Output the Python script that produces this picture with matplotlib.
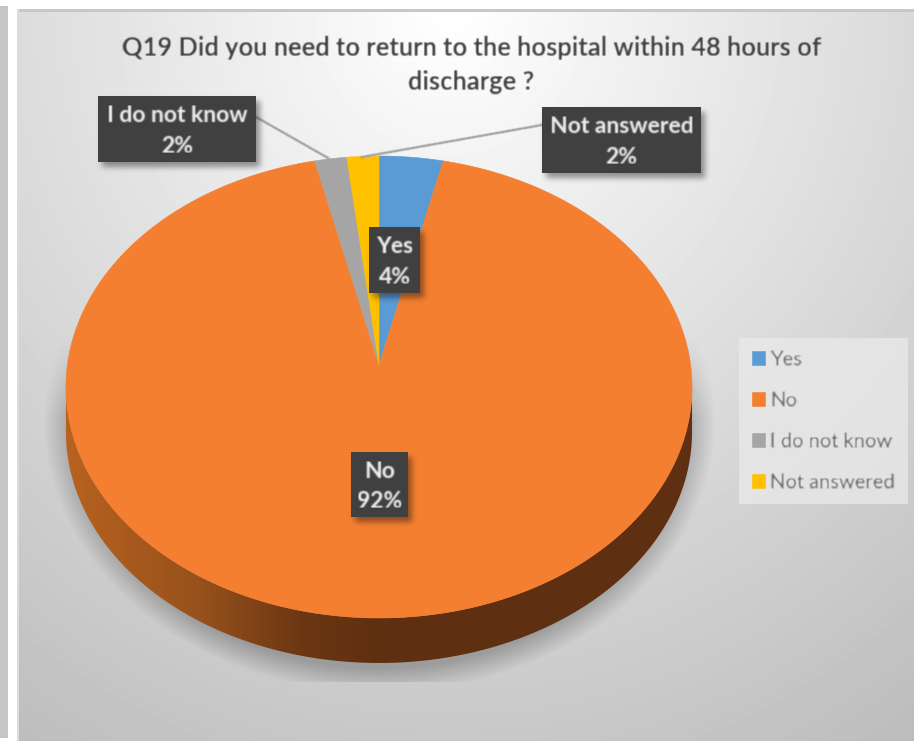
import numpy as np
import matplotlib
matplotlib.use("Agg")
import matplotlib.pyplot as plt
from matplotlib.colors import to_rgb
from matplotlib.patches import Polygon, Rectangle

# --- DATA ---
TITLE = "Q19 Did you need to return to the hospital within 48 hours of\ndischarge ?"
categories = ["Yes", "No", "I do not know", "Not answered"]
values = [3.6, 92.4, 1.8, 1.8]
colors = ["#5B9BD5", "#F47F30", "#A5A5A5", "#FFC000"]

# --- LAYOUT (reference pixels) ---
W, H = 914, 741
APEX = (379, 365)
A, B, K = 311.6, 228.9, 0.0952   # pie size and perspective
DEPTH = 45
PANEL_LEFT, PANEL_TOP = 17, 12
label_boxes = [(369, 227, 51, 66), (351, 452, 57, 65), (98, 96, 158, 66), (542, 107, 159, 66)]
leaders = {2: (256, 117, 328, 158), 3: (542, 125, 362, 157)}


def pie_xy(frac):
    """Turn pie fractions (clockwise from the top) into tilted pie coordinates."""
    t = 2 * np.pi * np.asarray(frac)
    w = 1 + K * np.cos(t)
    return APEX[0] + A * np.sin(t) / w, APEX[1] - B * np.cos(t) / w


def blur(sigma):
    """Agg filter that softens an artist, the reference is an upscaled screenshot."""
    pad = int(3 * sigma) + 1
    kernel = np.exp(-0.5 * (np.arange(-pad, pad + 1) / sigma) ** 2)
    kernel /= kernel.sum()

    def _filter(image, dpi):
        out = np.pad(image, ((pad, pad), (pad, pad), (0, 0)))
        out = np.apply_along_axis(np.convolve, 0, out, kernel, mode="same")
        out = np.apply_along_axis(np.convolve, 1, out, kernel, mode="same")
        return out, -pad, -pad
    return _filter


fig = plt.figure(figsize=(W / 100, H / 100), dpi=100, facecolor="white")
ax = fig.add_axes([0, 0, 1, 1])

# Panel background with the soft shadow under the pie baked in
xx, yy = np.meshgrid(np.arange(W), np.arange(H))
d = np.hypot((xx - 450) / 700, (yy - 10) / 750)
bg = np.clip(255 - 57 * d, 0, 255) / 255
e = np.hypot((xx - 379) / 336, (yy - 420) / 272)
shade = np.clip((1.0 - e) / 0.09, 0, 1) * np.clip((yy - 330) / 90, 0, 1) * 0.24
shade[yy > 681] = 0
bg = bg * (1 - shade)
ax.imshow(bg[PANEL_TOP:, PANEL_LEFT:], cmap="gray", vmin=0, vmax=1, aspect="auto",
          extent=(PANEL_LEFT, W, H, PANEL_TOP), zorder=0)
ax.add_patch(Rectangle((PANEL_LEFT, 9), W - PANEL_LEFT, 3, fc="#c8c8c8", ec="none", zorder=1))
ax.add_patch(Rectangle((PANEL_LEFT, 9), 2, H - 9, fc="#dcdcdc", ec="none", zorder=1))
ax.add_patch(Rectangle((0, 6), 8, 732, fc="#c6c6c6", ec="none", zorder=1))

# Pie wall
outline_x, outline_y = pie_xy(np.linspace(0, 1, 721))
i_right, i_left = outline_x.argmax(), outline_x.argmin()
arc_x, arc_y = outline_x[i_right:i_left + 1], outline_y[i_right:i_left + 1]
wall_pts = np.column_stack([np.r_[arc_x, arc_x[::-1]], np.r_[arc_y, arc_y[::-1] + DEPTH]])
wall = Polygon(wall_pts, closed=True, fc="none", ec="none", zorder=3)
ax.add_patch(wall)
stops_x = [66, 200, 300, 385, 692]
stops_c = np.array([to_rgb(c) for c in ["#B8621F", "#96511C", "#6C3713", "#5E2F10", "#5E2F10"]])
grad = np.stack([np.interp(np.arange(W), stops_x, stops_c[:, i]) for i in range(3)], axis=-1)
im = ax.imshow(grad[np.newaxis, :, :], aspect="auto", extent=(0, W, H, 0), zorder=3)
im.set_clip_path(wall)

# Pie top face
shares = np.array(values) / sum(values)
edges = np.r_[0, np.cumsum(shares)]
handles = []
for i, name in enumerate(categories):
    n = max(int(shares[i] * 720), 3)
    px, py = pie_xy(np.linspace(edges[i], edges[i + 1], n))
    pts = np.column_stack([np.r_[APEX[0], px], np.r_[APEX[1], py]])
    wedge = Polygon(pts, closed=True, fc=colors[i], ec=colors[i], lw=0.4, label=name, zorder=4)
    ax.add_patch(wedge)
    handles.append(wedge)

# Data labels
for i, name in enumerate(categories):
    bx, by, bw, bh = label_boxes[i]
    if i in leaders:
        x0, y0, x1, y1 = leaders[i]
        ax.plot([x0, x1], [y0, y1], color="#a0a0a0", lw=1.8, zorder=5, agg_filter=blur(0.6))
    ax.add_patch(Rectangle((bx + 4, by + 5), bw, bh, fc="black", ec="none", alpha=0.4,
                           zorder=5, agg_filter=blur(3)))
    ax.add_patch(Rectangle((bx, by), bw, bh, fc="#404040", ec="none", zorder=6))
    ax.text(bx + bw / 2, by + bh / 2 + 2, f"{name}\n{values[i]:.0f}%", color="#f0f0f0", fontsize=16.5,
            family="Lato", weight="bold", ha="center", va="center", linespacing=1.55, zorder=7,
            agg_filter=blur(0.7))

ax.text(471, 65, TITLE, color="#404040", fontsize=18.4, family="Lato", weight="bold",
        ha="center", va="center", linespacing=1.45, zorder=7, agg_filter=blur(0.7))

# Legend
leg = ax.legend(handles=handles, loc="upper left", bbox_to_anchor=(739 / W, 1 - 338 / H),
                borderaxespad=0, frameon=True, fancybox=False, facecolor="#eaeaea", edgecolor="none",
                framealpha=0.75, prop={"family": "Lato", "size": 14.5}, labelcolor="#5c5c5c",
                handlelength=0.65, handleheight=0.65, handletextpad=0.25, labelspacing=1.19,
                borderpad=0.66)
leg.set_zorder(7)
for t in leg.get_texts():
    t.set_agg_filter(blur(0.8))

ax.set_xlim(0, W)
ax.set_ylim(H, 0)
ax.axis("off")

fig.savefig("out.png", dpi=100, facecolor="white")
